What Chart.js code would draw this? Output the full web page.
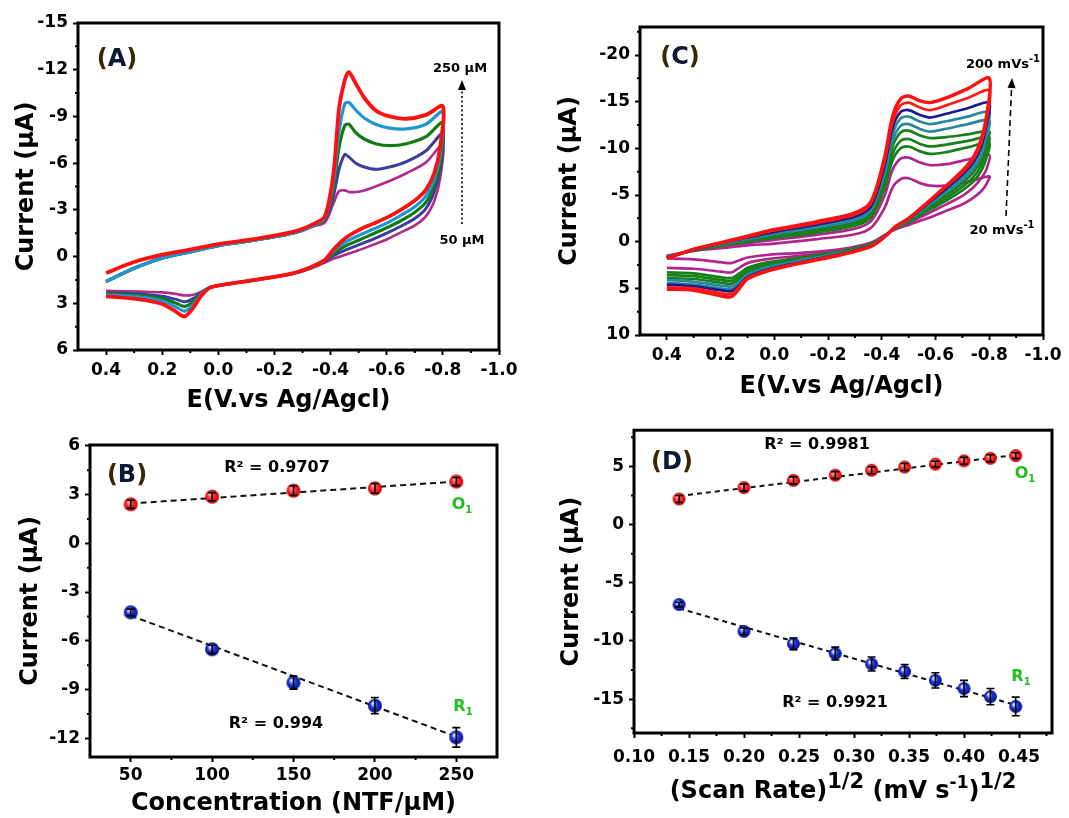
<!DOCTYPE html>
<html>
<head>
<meta charset="utf-8">
<script src="https://cdn.jsdelivr.net/npm/chart.js@4.4.0/dist/chart.umd.min.js"></script>
<style>
  body { margin: 0; background: #fff; width: 1069px; height: 818px; position: relative; overflow: hidden; }
  canvas { position: absolute; }
</style>
</head>
<body>
<canvas id="cvA" width="530" height="415" style="left:0px;top:0px"></canvas>
<canvas id="cvB" width="530" height="403" style="left:0px;top:415px"></canvas>
<canvas id="cvC" width="529" height="405" style="left:540px;top:0px"></canvas>
<canvas id="cvD" width="529" height="403" style="left:540px;top:415px"></canvas>
<script>
// ---------- panel A : CV at different NTF concentrations ----------
const potA = [0.4, 0.3, 0.2, 0.1, 0.0, -0.1, -0.2, -0.28, -0.34, -0.38, -0.41, -0.43, -0.45, -0.465, -0.49, -0.52, -0.56, -0.61, -0.67, -0.74, -0.8,
  -0.79, -0.77, -0.74, -0.7, -0.65, -0.6, -0.55, -0.5, -0.45, -0.41, -0.38, -0.32, -0.26, -0.15, -0.05, 0.03, 0.06, 0.09, 0.12, 0.15, 0.2, 0.28, 0.4];
const curA_250 = [1.05, 0.35, -0.12, -0.45, -0.8, -1.05, -1.35, -1.65, -2.1, -2.6, -5.3, -9.5, -11.3, -11.85, -11.1, -10.2, -9.4, -9.0, -8.85, -9.1, -9.65,
  -7.0, -5.4, -4.3, -3.6, -3.0, -2.5, -2.1, -1.7, -1.15, -0.45, 0.2, 0.75, 1.1, 1.45, 1.72, 2.0, 2.5, 3.3, 3.85, 3.55, 3.05, 2.75, 2.55];
const curA_200 = [1.6, 0.75, 0.1, -0.3, -0.7, -0.97, -1.27, -1.57, -2.0, -2.5, -4.8, -8.0, -9.8, -9.9, -9.4, -8.9, -8.5, -8.25, -8.2, -8.5, -9.3,
  -6.5, -5.0, -3.9, -3.2, -2.65, -2.15, -1.75, -1.35, -0.9, -0.35, 0.22, 0.75, 1.1, 1.45, 1.72, 1.98, 2.4, 3.1, 3.5, 3.25, 2.85, 2.6, 2.45];
const curA_150 = [1.6, 0.75, 0.1, -0.3, -0.7, -0.97, -1.27, -1.57, -2.0, -2.45, -4.4, -7.0, -8.4, -8.5, -7.95, -7.55, -7.25, -7.12, -7.25, -7.7, -8.6,
  -6.0, -4.6, -3.5, -2.85, -2.3, -1.85, -1.45, -1.05, -0.65, -0.2, 0.25, 0.78, 1.1, 1.45, 1.72, 1.98, 2.35, 2.9, 3.2, 3.0, 2.7, 2.5, 2.4];
const curA_100 = [1.6, 0.75, 0.1, -0.3, -0.7, -0.97, -1.27, -1.57, -2.0, -2.4, -3.9, -5.6, -6.55, -6.4, -6.0, -5.75, -5.6, -5.75, -6.1, -6.8, -7.9,
  -5.6, -4.2, -3.1, -2.45, -1.95, -1.5, -1.1, -0.75, -0.4, -0.05, 0.3, 0.8, 1.12, 1.45, 1.72, 1.98, 2.3, 2.7, 2.9, 2.75, 2.55, 2.4, 2.35];
const curA_50 = [1.6, 0.75, 0.1, -0.3, -0.7, -0.97, -1.27, -1.57, -1.95, -2.2, -3.4, -4.2, -4.25, -4.15, -4.15, -4.25, -4.5, -4.85, -5.35, -6.05, -7.2,
  -5.0, -3.6, -2.6, -2.0, -1.55, -1.1, -0.75, -0.4, -0.1, 0.15, 0.38, 0.82, 1.12, 1.45, 1.72, 1.98, 2.25, 2.45, 2.5, 2.4, 2.3, 2.25, 2.2];
const ticksA_x = [0.4, 0.2, 0.0, -0.2, -0.4, -0.6, -0.8, -1.0];
const minorA_x = [0.3, 0.1, -0.1, -0.3, -0.5, -0.7, -0.9];
const ticksA_y = [-15, -12, -9, -6, -3, 0, 3, 6];
const minorA_y = [-13.5, -10.5, -7.5, -4.5, -1.5, 1.5, 4.5];

// ---------- panel C : CV at different scan rates ----------
const potC = [0.4, 0.3, 0.2, 0.1, 0.0, -0.15, -0.3, -0.36, -0.41, -0.44, -0.47, -0.5, -0.54, -0.58, -0.64, -0.72, -0.8,
  -0.79, -0.77, -0.74, -0.7, -0.64, -0.57, -0.5, -0.45, -0.41, -0.36, -0.25, -0.1, 0.02, 0.1, 0.13, 0.16, 0.2, 0.3, 0.4];
const curC_20 = [1.5, 1.0, 0.7, 0.4, 0.2, -0.25, -0.8, -1.5, -3.6, -5.8, -6.7, -6.8, -6.3, -6.0, -6.0, -6.4, -7.0,
  -6.2, -5.4, -4.7, -4.0, -3.3, -2.5, -1.8, -1.3, -0.7, 0.1, 0.8, 1.2, 1.4, 1.7, 2.0, 2.3, 2.2, 1.9, 1.8];
const curC_40 = [1.6, 0.95, 0.55, 0.15, -0.2, -0.7, -1.4, -2.2, -4.9, -7.7, -8.9, -9.0, -8.5, -8.2, -8.3, -8.8, -9.3,
  -7.8, -6.8, -5.8, -4.9, -4.0, -3.0, -2.0, -1.4, -0.65, 0.2, 0.95, 1.5, 1.85, 2.3, 2.8, 3.3, 3.2, 2.9, 2.8];
const curC_60 = [1.6, 0.9, 0.45, 0.0, -0.4, -0.95, -1.7, -2.6, -5.7, -8.7, -10.0, -10.2, -9.7, -9.4, -9.6, -10.1, -10.6,
  -9.0, -7.6, -6.4, -5.5, -4.4, -3.3, -2.1, -1.45, -0.6, 0.25, 1.0, 1.7, 2.2, 2.8, 3.4, 3.9, 3.8, 3.4, 3.3];
const curC_80 = [1.6, 0.9, 0.4, -0.1, -0.5, -1.1, -1.9, -2.9, -6.2, -9.4, -10.8, -11.0, -10.5, -10.2, -10.4, -10.8, -11.2,
  -9.8, -8.2, -6.9, -5.9, -4.7, -3.5, -2.2, -1.5, -0.6, 0.3, 1.1, 1.8, 2.4, 3.0, 3.7, 4.2, 4.1, 3.7, 3.6];
const curC_100 = [1.7, 0.9, 0.35, -0.2, -0.7, -1.3, -2.1, -3.1, -6.7, -10.2, -11.7, -11.9, -11.4, -11.1, -11.2, -11.5, -11.8,
  -10.6, -8.8, -7.4, -6.3, -5.0, -3.7, -2.3, -1.5, -0.55, 0.35, 1.15, 1.9, 2.6, 3.3, 4.0, 4.5, 4.4, 4.0, 3.9];
const curC_120 = [1.7, 0.85, 0.3, -0.3, -0.8, -1.5, -2.3, -3.4, -7.2, -10.8, -12.4, -12.6, -12.1, -11.8, -12.1, -12.6, -13.0,
  -11.3, -9.3, -7.8, -6.6, -5.3, -3.8, -2.35, -1.55, -0.55, 0.4, 1.2, 2.0, 2.7, 3.5, 4.3, 4.8, 4.7, 4.3, 4.1];
const curC_140 = [1.7, 0.85, 0.25, -0.35, -0.95, -1.65, -2.5, -3.6, -7.7, -11.5, -13.2, -13.4, -12.9, -12.6, -12.9, -13.4, -13.9,
  -12.0, -9.8, -8.2, -6.9, -5.5, -3.95, -2.4, -1.55, -0.55, 0.45, 1.25, 2.1, 2.85, 3.65, 4.5, 5.1, 5.0, 4.6, 4.4];
const curC_160 = [1.75, 0.85, 0.2, -0.45, -1.05, -1.8, -2.7, -3.8, -8.1, -12.2, -13.9, -14.1, -13.6, -13.3, -13.7, -14.3, -14.9,
  -12.6, -10.2, -8.5, -7.2, -5.7, -4.05, -2.45, -1.6, -0.5, 0.45, 1.3, 2.2, 2.95, 3.8, 4.7, 5.3, 5.2, 4.8, 4.6];
const curC_180 = [1.8, 0.8, 0.15, -0.5, -1.2, -1.95, -2.9, -4.1, -8.6, -12.8, -14.6, -14.9, -14.4, -14.1, -14.6, -15.4, -16.2,
  -13.1, -10.6, -8.8, -7.4, -5.9, -4.15, -2.5, -1.6, -0.5, 0.5, 1.35, 2.25, 3.05, 3.9, 4.85, 5.6, 5.5, 5.0, 4.9];
const curC_200 = [1.8, 0.8, 0.1, -0.6, -1.3, -2.1, -3.1, -4.3, -9.0, -13.4, -15.3, -15.6, -15.1, -14.9, -15.4, -16.4, -17.5,
  -13.5, -11.0, -9.0, -7.6, -6.0, -4.2, -2.5, -1.6, -0.5, 0.5, 1.4, 2.3, 3.1, 4.0, 5.0, 5.9, 5.8, 5.2, 5.1];
const ticksC_y = [-20, -15, -10, -5, 0, 5, 10];
const minorC_y = [-22.5, -17.5, -12.5, -7.5, -2.5, 2.5, 7.5];

// ---------- panel B : peak current vs concentration ----------
const concB = [50, 100, 150, 200, 250];
const oxB = [2.4, 2.87, 3.24, 3.38, 3.8];
const oxErrB = [0.25, 0.25, 0.3, 0.3, 0.25];
const redB = [-4.25, -6.52, -8.57, -9.99, -11.94];
const redErrB = [0.2, 0.25, 0.4, 0.5, 0.6];
const fitXB = [50, 250];
const fitOxB = [2.45, 3.8];
const fitRedB = [-4.45, -11.9];
const ticksB_x = [50, 100, 150, 200, 250];
const minorB_x = [75, 125, 175, 225];
const ticksB_y = [-12, -9, -6, -3, 0, 3, 6];
const minorB_y = [-10.5, -7.5, -4.5, -1.5, 1.5, 4.5];

// ---------- panel D : peak current vs sqrt(scan rate) ----------
const rateD = [0.141, 0.2, 0.245, 0.283, 0.316, 0.346, 0.374, 0.4, 0.424, 0.447];
const oxD = [2.19, 3.17, 3.79, 4.24, 4.66, 4.94, 5.19, 5.47, 5.69, 5.92];
const oxErrD = [0.3, 0.3, 0.3, 0.3, 0.3, 0.3, 0.25, 0.3, 0.3, 0.25];
const redD = [-6.87, -9.17, -10.24, -11.08, -11.98, -12.62, -13.38, -14.08, -14.78, -15.62];
const redErrD = [0.2, 0.3, 0.5, 0.55, 0.6, 0.6, 0.65, 0.7, 0.7, 0.8];
const fitXD = [0.141, 0.447];
const fitOxD = [2.45, 5.97];
const fitRedD = [-7.2, -15.5];
const ticksD_x = [0.10, 0.15, 0.20, 0.25, 0.30, 0.35, 0.40, 0.45];
const minorD_x = [0.125, 0.175, 0.225, 0.275, 0.325, 0.375, 0.425, 0.475];
const ticksD_y = [-15, -10, -5, 0, 5];
const minorD_y = [-17.5, -12.5, -7.5, -2.5, 2.5, 7.5];

Chart.defaults.font.family = "'DejaVu Sans', sans-serif";
Chart.defaults.font.weight = 'bold';
Chart.defaults.color = '#000';
Chart.defaults.animation = false;

const FONT = '"DejaVu Sans", sans-serif';

function pairs(xs, ys) {
  return xs.map((x, i) => ({ x: x, y: ys[i] }));
}

function fixedTicks(list) {
  return function (scale) {
    scale.ticks = list.slice().sort((a, b) => a - b).map(v => ({ value: v }));
  };
}

// text with sub / superscripts, y = middle of the capitals
function rich(ctx, x, y, size, align, parts) {
  ctx.save();
  ctx.textBaseline = 'alphabetic';
  ctx.textAlign = 'left';
  const fontOf = p => 'bold ' + Math.round(p[1] ? size * (p[3] || 0.65) : size) + 'px ' + FONT;
  let w = 0;
  parts.forEach(p => { ctx.font = fontOf(p); w += ctx.measureText(p[0]).width; });
  let cx = align === 'center' ? x - w / 2 : (align === 'right' ? x - w : x);
  const base = y + size * 0.365;
  parts.forEach(p => {
    ctx.font = fontOf(p);
    ctx.fillStyle = p[2] || '#000';
    const dy = p[1] === 'sup' ? -size * 0.42 : (p[1] === 'sub' ? size * 0.25 : 0);
    ctx.fillText(p[0], cx, base + dy);
    cx += ctx.measureText(p[0]).width;
  });
  ctx.restore();
}

function panelLabel(ctx, x, y, letter) {
  rich(ctx, x, y, 24, 'center', [['(', '', '#3a2600'], [letter, '', '#0c1838'], [')', '', '#3a2600']]);
}

function arrow(ctx, x1, y1, x2, y2, dash) {
  ctx.save();
  ctx.strokeStyle = '#000';
  ctx.fillStyle = '#000';
  ctx.lineWidth = 1.6;
  const ang = Math.atan2(y2 - y1, x2 - x1);
  const hx = x2 - 10 * Math.cos(ang), hy = y2 - 10 * Math.sin(ang);
  ctx.setLineDash(dash);
  ctx.beginPath(); ctx.moveTo(x1, y1); ctx.lineTo(hx, hy); ctx.stroke();
  ctx.setLineDash([]);
  ctx.beginPath();
  ctx.moveTo(x2, y2);
  ctx.lineTo(hx + 4 * Math.sin(ang), hy - 4 * Math.cos(ang));
  ctx.lineTo(hx - 4 * Math.sin(ang), hy + 4 * Math.cos(ang));
  ctx.closePath(); ctx.fill();
  ctx.restore();
}

function errBars(chart, di, errs) {
  const meta = chart.getDatasetMeta(di), ys = chart.scales.y, ctx = chart.ctx;
  const data = chart.data.datasets[di].data;
  ctx.save();
  ctx.strokeStyle = '#000';
  ctx.lineWidth = 1.6;
  ctx.beginPath();
  meta.data.forEach((pt, i) => {
    const t = ys.getPixelForValue(data[i].y + errs[i]);
    const b = ys.getPixelForValue(data[i].y - errs[i]);
    ctx.moveTo(pt.x, t); ctx.lineTo(pt.x, b);
    ctx.moveTo(pt.x - 4, t); ctx.lineTo(pt.x + 4, t);
    ctx.moveTo(pt.x - 4, b); ctx.lineTo(pt.x + 4, b);
  });
  ctx.stroke();
  ctx.restore();
}

function frame(minorX, minorY, extra) {
  return {
    id: 'frame',
    afterDraw(chart) {
      const ctx = chart.ctx, a = chart.chartArea, sc = chart.scales;
      ctx.save();
      ctx.strokeStyle = '#000';
      ctx.lineWidth = 2;
      ctx.beginPath();
      minorX.forEach(v => { const p = sc.x.getPixelForValue(v); ctx.moveTo(p, a.bottom); ctx.lineTo(p, a.bottom + 3); });
      minorY.forEach(v => { const p = sc.y.getPixelForValue(v); ctx.moveTo(a.left, p); ctx.lineTo(a.left - 3, p); });
      ctx.stroke();
      ctx.lineWidth = 3;
      ctx.strokeRect(a.left, a.top, a.right - a.left, a.bottom - a.top);
      ctx.restore();
      if (extra) extra(chart);
    }
  };
}

function axes(o) {
  return {
    x: {
      type: 'linear', min: o.xmin, max: o.xmax, reverse: !!o.xrev,
      afterBuildTicks: fixedTicks(o.xt),
      afterFit: s => { s.height = o.xh; },
      grid: { drawOnChartArea: false, tickLength: 5, tickWidth: 2, tickColor: '#000' },
      border: { display: false },
      ticks: { font: { size: 17 }, padding: o.xpad, maxRotation: 0, autoSkip: false, callback: o.xfmt },
      title: { display: !!o.xtitle, text: o.xtitle, font: { size: 24 }, padding: { top: 0, bottom: o.xtp || 0 } }
    },
    y: {
      type: 'linear', min: o.ymin, max: o.ymax, reverse: !!o.yrev,
      afterBuildTicks: fixedTicks(o.yt),
      afterFit: s => { s.width = o.yw; },
      grid: { drawOnChartArea: false, tickLength: 5, tickWidth: 2, tickColor: '#000' },
      border: { display: false },
      ticks: { font: { size: 17 }, padding: 5, autoSkip: false, callback: v => String(Math.round(v)) },
      title: { display: true, text: 'Current (µA)', font: { size: 24 }, padding: { top: o.ytp, bottom: 0 } }
    }
  };
}

function cvSet(label, cur, pot, color, width) {
  return {
    label: label, data: pairs(pot, cur), showLine: true, borderColor: color,
    borderWidth: width, pointRadius: 0, tension: 0.3, fill: false
  };
}

function sphere(r, light, base, dark) {
  const c = document.createElement('canvas');
  c.width = c.height = 2 * r + 2;
  const g = c.getContext('2d');
  const grd = g.createRadialGradient(r + 1 - r * 0.3, r + 1 - r * 0.35, r * 0.1, r + 1, r + 1, r);
  grd.addColorStop(0, light);
  grd.addColorStop(0.45, base);
  grd.addColorStop(1, dark);
  g.fillStyle = grd;
  g.beginPath(); g.arc(r + 1, r + 1, r, 0, 2 * Math.PI); g.fill();
  return c;
}

const fmt1 = v => (Math.abs(v) < 1e-9 ? 0 : v).toFixed(1);
const fmt2 = v => v.toFixed(2);
const baseOpts = {
  responsive: false, devicePixelRatio: 1, events: [],
  plugins: { legend: { display: false }, tooltip: { enabled: false } }
};

// ---------- A ----------
new Chart(document.getElementById('cvA'), {
  type: 'scatter',
  data: {
    datasets: [
      cvSet('250 µM', curA_250, potA, '#ff1010', 3.8),
      cvSet('200 µM', curA_200, potA, '#1e96d2', 3.2),
      cvSet('150 µM', curA_150, potA, '#127a12', 3.2),
      cvSet('100 µM', curA_100, potA, '#3c3c9c', 3),
      cvSet('50 µM', curA_50, potA, '#b02a8c', 2.6)
    ]
  },
  options: Object.assign({}, baseOpts, {
    layout: { padding: { top: 23, right: 31, left: 0, bottom: 0 } },
    scales: axes({ xmin: -1.0, xmax: 0.5, xrev: true, xt: ticksA_x, xh: 65, xpad: 5, xfmt: fmt1,
      xtitle: 'E(V.vs Ag/Agcl)', xtp: 0,
      ymin: -15, ymax: 6, yrev: true, yt: ticksA_y, yw: 78, ytp: 12 })
  }),
  plugins: [frame(minorA_x, minorA_y, chart => {
    const ctx = chart.ctx;
    panelLabel(ctx, 117, 57, 'A');
    rich(ctx, 460, 67, 13, 'center', [['250 µM']]);
    rich(ctx, 462, 239, 13, 'center', [['50 µM']]);
    arrow(ctx, 462, 224, 462, 80, [2, 2.5]);
  })]
});

// ---------- C ----------
new Chart(document.getElementById('cvC'), {
  type: 'scatter',
  data: {
    datasets: [
      cvSet('200', curC_200, potC, '#ff1010', 3.4),
      cvSet('180', curC_180, potC, '#ff1a1a', 2.7),
      cvSet('160', curC_160, potC, '#1a1a8c', 2.7),
      cvSet('140', curC_140, potC, '#2a879c', 2.7),
      cvSet('120', curC_120, potC, '#2a879c', 2.7),
      cvSet('100', curC_100, potC, '#17801a', 2.7),
      cvSet('80', curC_80, potC, '#17801a', 2.7),
      cvSet('60', curC_60, potC, '#17801a', 2.7),
      cvSet('40', curC_40, potC, '#b0268e', 2.7),
      cvSet('20', curC_20, potC, '#b0268e', 2.7)
    ]
  },
  options: Object.assign({}, baseOpts, {
    layout: { padding: { top: 27, right: 26, left: 0, bottom: 0 } },
    scales: axes({ xmin: -1.0, xmax: 0.5, xrev: true, xt: ticksA_x, xh: 70, xpad: 5, xfmt: fmt1,
      xtitle: 'E(V.vs Ag/Agcl)', xtp: 4,
      ymin: -23, ymax: 10, yrev: true, yt: ticksC_y, yw: 100, ytp: 15 })
  }),
  plugins: [frame(minorA_x, minorC_y, chart => {
    const ctx = chart.ctx;
    panelLabel(ctx, 140, 55, 'C');
    rich(ctx, 463, 63, 13, 'center', [['200 mVs'], ['-1', 'sup', '#000', 0.75]]);
    rich(ctx, 462, 229, 13, 'center', [['20 mVs'], ['-1', 'sup', '#000', 0.75]]);
    arrow(ctx, 466, 216, 472, 78, [6, 4]);
  })]
});

// ---------- B ----------
const redBall = sphere(7, '#ffb0b0', '#ff2a2a', '#c80000');
const blueBall = sphere(7, '#e8ecff', '#1a34e0', '#0a1480');

new Chart(document.getElementById('cvB'), {
  type: 'scatter',
  data: {
    datasets: [
      { label: 'O1', data: pairs(concB, oxB), pointStyle: redBall, pointRadius: 7 },
      { label: 'R1', data: pairs(concB, redB), pointStyle: blueBall, pointRadius: 7 },
      { label: 'fit O1', data: pairs(fitXB, fitOxB), showLine: true, borderColor: '#111', borderWidth: 2, borderDash: [6, 4], pointRadius: 0 },
      { label: 'fit R1', data: pairs(fitXB, fitRedB), showLine: true, borderColor: '#111', borderWidth: 2, borderDash: [6, 4], pointRadius: 0 }
    ]
  },
  options: Object.assign({}, baseOpts, {
    layout: { padding: { top: 30, right: 33, left: 0, bottom: 0 } },
    scales: axes({ xmin: 25, xmax: 275, xt: ticksB_x, xh: 61, xpad: 3, xfmt: v => String(v),
      xtitle: 'Concentration (NTF/µM)', xtp: 0,
      ymin: -13.15, ymax: 6.05, yt: ticksB_y, yw: 90, ytp: 16 })
  }),
  plugins: [frame(minorB_x, minorB_y, chart => {
    const ctx = chart.ctx;
    errBars(chart, 0, oxErrB);
    errBars(chart, 1, redErrB);
    panelLabel(ctx, 127, 58, 'B');
    rich(ctx, 277, 51, 16, 'center', [['R² = 0.9707']]);
    rich(ctx, 276, 307, 16, 'center', [['R² = 0.994']]);
    rich(ctx, 462, 88, 16, 'center', [['O', '', '#1fbf1f'], ['1', 'sub', '#1fbf1f']]);
    rich(ctx, 463, 290, 16, 'center', [['R', '', '#1fbf1f'], ['1', 'sub', '#1fbf1f']]);
  })]
});

// ---------- D ----------
const redBallD = sphere(6.5, '#ffb0b0', '#ff2a2a', '#c80000');
const blueBallD = sphere(6.5, '#e8ecff', '#1a34e0', '#0a1480');

new Chart(document.getElementById('cvD'), {
  type: 'scatter',
  data: {
    datasets: [
      { label: 'O1', data: pairs(rateD, oxD), pointStyle: redBallD, pointRadius: 7 },
      { label: 'R1', data: pairs(rateD, redD), pointStyle: blueBallD, pointRadius: 7 },
      { label: 'fit O1', data: pairs(fitXD, fitOxD), showLine: true, borderColor: '#111', borderWidth: 2, borderDash: [5, 4], pointRadius: 0 },
      { label: 'fit R1', data: pairs(fitXD, fitRedD), showLine: true, borderColor: '#111', borderWidth: 2, borderDash: [5, 4], pointRadius: 0 }
    ]
  },
  options: Object.assign({}, baseOpts, {
    layout: { padding: { top: 10, right: 17, left: 0, bottom: 0 } },
    scales: axes({ xmin: 0.1, xmax: 0.48, xt: ticksD_x, xh: 85, xpad: 9, xfmt: fmt2,
      xtitle: '',
      ymin: -17.9, ymax: 8.1, yt: ticksD_y, yw: 94, ytp: 17 })
  }),
  plugins: [frame(minorD_x, minorD_y, chart => {
    const ctx = chart.ctx;
    errBars(chart, 0, oxErrD);
    errBars(chart, 1, redErrD);
    panelLabel(ctx, 132, 45, 'D');
    rich(ctx, 277, 28, 16, 'center', [['R² = 0.9981']]);
    rich(ctx, 295, 286, 16, 'center', [['R² = 0.9921']]);
    rich(ctx, 485, 57, 16, 'center', [['O', '', '#1fbf1f'], ['1', 'sub', '#1fbf1f']]);
    rich(ctx, 481, 260, 16, 'center', [['R', '', '#1fbf1f'], ['1', 'sub', '#1fbf1f']]);
    rich(ctx, 303, 374, 24, 'center', [['(Scan Rate)'], ['1/2', 'sup', '#000', 0.88], [' (mV s'], ['-1', 'sup', '#000', 0.72], [')'], ['1/2', 'sup', '#000', 0.88]]);
  })]
});
</script>
</body>
</html>
